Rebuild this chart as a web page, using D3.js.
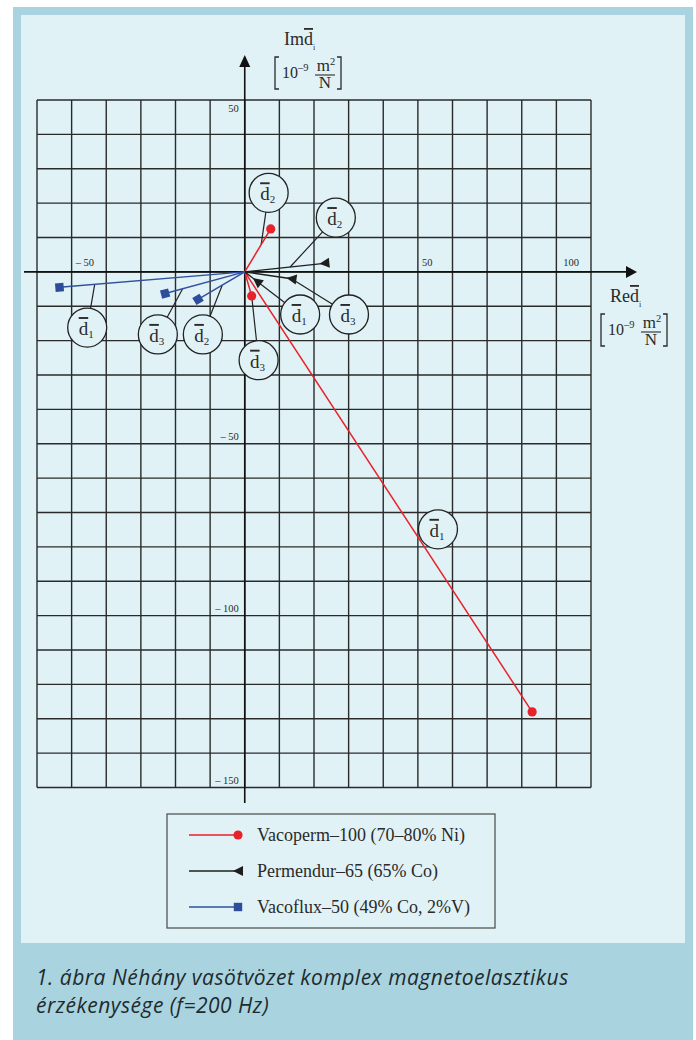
<!DOCTYPE html>
<html>
<head>
<meta charset="utf-8">
<script src="https://cdn.jsdelivr.net/npm/d3@7"></script>
<style>
  html, body { margin: 0; padding: 0; background: #ffffff; }
  svg { display: block; }
  .serif { font-family: "Liberation Serif", "Times New Roman", serif; fill: #2a2a2a; }
  .over { text-decoration: overline; }
</style>
</head>
<body>
<svg id="chart" width="696" height="1040"></svg>
<script>
// Complex magnetoelastic sensitivity components d1, d2, d3 (10^-9 m²/N)
const seriesNames = ["Vacoperm–100 (70–80% Ni)", "Permendur–65 (65% Co)", "Vacoflux–50 (49% Co, 2%V)"];
const componentIds = [1, 2, 3];

const vacopermRe = [83, 7.5, 2];
const vacopermIm = [-128, 12.5, -7];
const permendurRe = [3.5, 23, 13.5];
const permendurIm = [-2.7, 2.5, -2];
const vacofluxRe = [-53.5, -13.5, -23];
const vacofluxIm = [-4.5, -8, -6.3];

const xTicks = [-50, 50, 100];
const yTicks = [50, -50, -100, -150];
const xDomain = [-60, 100];
const yDomain = [-150, 50];

const captionLines = [
  "1. ábra Néhány vasötvözet komplex magnetoelasztikus",
  "érzékenysége (f=200 Hz)"
];

// Callout bubbles: series index, component index, where the leader meets the vector
// (fraction of its length, null = no leader), and the bubble centre in chart units.
const bubbleSeries = [0, 0, 0, 1, 1, 1, 2, 2, 2];
const bubbleComp   = [0, 1, 2, 0, 1, 2, 0, 1, 2];
const bubbleAt     = [null, 0.63, 1, 1, 0.57, 1, 0.81, 0.48, 0.78];
const bubbleRe     = [55.8, 6.9, 4.0, 16.0, 26.3, 30.1, -45.5, -12.1, -25.1];
const bubbleIm     = [-74.9, 23.0, -25.7, -12.4, 15.8, -12.4, -16.2, -18.2, -18.2];

// ---- styling ----
const colors = {
  frame: "#a9d4df",
  panel: "#e0f2f6",
  grid: "#2a2a2a",
  axis: "#111111",
  series: ["#e8212b", "#1e1e1e", "#3150a0"],
  marker: ["#e8212b", "#1e1e1e", "#2d4c9c"]
};

const svg = d3.select("#chart");

// background frame and light panel
svg.append("rect").attr("x", 13).attr("y", 7).attr("width", 680).attr("height", 1033).attr("fill", colors.frame);
svg.append("rect").attr("x", 21).attr("y", 15).attr("width", 664).attr("height", 928).attr("fill", colors.panel);

const x = d3.scaleLinear().domain(xDomain).range([37, 591]);
const y = d3.scaleLinear().domain(yDomain).range([787.5, 100]);

// ---- grid ----
const grid = svg.append("g").attr("stroke", colors.grid).attr("stroke-width", 1.4);
grid.selectAll("line.v").data(d3.range(xDomain[0], xDomain[1] + 1, 10)).join("line")
  .attr("x1", d => x(d)).attr("x2", d => x(d))
  .attr("y1", y(yDomain[1])).attr("y2", y(yDomain[0]));
grid.selectAll("line.h").data(d3.range(yDomain[0], yDomain[1] + 1, 10)).join("line")
  .attr("y1", d => y(d)).attr("y2", d => y(d))
  .attr("x1", x(xDomain[0])).attr("x2", x(xDomain[1]));

// ---- axes with arrowheads ----
const x0 = x(0), y0 = y(0);
const axes = svg.append("g");
axes.append("line").attr("x1", 24).attr("x2", 630).attr("y1", y0).attr("y2", y0)
  .attr("stroke", colors.axis).attr("stroke-width", 1.6);
axes.append("line").attr("x1", x0).attr("x2", x0).attr("y1", 803).attr("y2", 62)
  .attr("stroke", colors.axis).attr("stroke-width", 1.6);
axes.append("path").attr("d", `M${637},${y0} L${626},${y0 - 6} L${626},${y0 + 6} Z`).attr("fill", colors.axis);
axes.append("path").attr("d", `M${x0},${55} L${x0 - 5.5},${67} L${x0 + 5.5},${67} Z`).attr("fill", colors.axis);

// ---- tick labels ----
const tickText = v => v < 0 ? "– " + Math.abs(v) : String(v);
svg.append("g").selectAll("text").data(xTicks).join("text")
  .attr("class", "serif").attr("font-size", 10.5)
  .attr("x", d => d === xDomain[1] ? x(d) - 12 : x(d) + 4)
  .attr("text-anchor", d => d === xDomain[1] ? "end" : "start")
  .attr("y", y0 - 6)
  .text(tickText);
svg.append("g").selectAll("text").data(yTicks).join("text")
  .attr("class", "serif").attr("font-size", 10.5)
  .attr("x", x0 - 6).attr("text-anchor", "end")
  .attr("y", d => d === yDomain[1] ? y(d) + 12 : y(d) - 4)
  .text(tickText);

// ---- axis titles: Re d̄ᵢ / Im d̄ᵢ with unit [10⁻⁹ m²/N] ----
function axisTitle(left, base, prefix) {
  const g = svg.append("g");
  const t = g.append("text").attr("class", "serif").attr("x", left + 9).attr("y", base).attr("font-size", 18);
  t.append("tspan").text(prefix);
  t.append("tspan").attr("class", "over").text("d");
  t.append("tspan").attr("font-size", 8).attr("dy", 5).text("i");

  const top = base + 12, bot = base + 44;
  const br = g.append("g").attr("fill", "none").attr("stroke", "#2a2a2a").attr("stroke-width", 1.3);
  br.append("path").attr("d", `M${left + 4},${top} H${left} V${bot} H${left + 4}`);
  br.append("path").attr("d", `M${left + 62},${top} H${left + 66} V${bot} H${left + 62}`);

  const p = g.append("text").attr("class", "serif").attr("x", left + 7).attr("y", base + 33).attr("font-size", 16);
  p.append("tspan").text("10");
  p.append("tspan").attr("font-size", 10.5).attr("dy", -7).text("–9");

  const m = g.append("text").attr("class", "serif").attr("x", left + 51).attr("y", base + 26)
    .attr("font-size", 17).attr("text-anchor", "middle");
  m.append("tspan").text("m");
  m.append("tspan").attr("font-size", 10.5).attr("dy", -6).text("2");
  g.append("line").attr("x1", left + 40).attr("x2", left + 60).attr("y1", base + 30).attr("y2", base + 30)
    .attr("stroke", "#2a2a2a").attr("stroke-width", 1.1);
  g.append("text").attr("class", "serif").attr("x", left + 50).attr("y", base + 43)
    .attr("font-size", 17).attr("text-anchor", "middle").text("N");
}
axisTitle(275, 45, "Im");
axisTitle(601, 302, "Re");

// ---- vectors ----
const seriesRe = [vacopermRe, permendurRe, vacofluxRe];
const seriesIm = [vacopermIm, permendurIm, vacofluxIm];
const vectors = [];
seriesNames.forEach((name, s) => {
  componentIds.forEach((c, i) => {
    vectors.push({ s, c, re: seriesRe[s][i], im: seriesIm[s][i] });
  });
});
const findVec = (s, i) => vectors.find(v => v.s === s && v.c === componentIds[i]);

// leader lines from vectors to callout bubbles
const bubbles = bubbleSeries.map((s, k) => ({
  s, i: bubbleComp[k], t: bubbleAt[k], re: bubbleRe[k], im: bubbleIm[k]
}));
const leaders = svg.append("g").attr("stroke", "#222").attr("stroke-width", 1.2);
bubbles.filter(b => b.t !== null).forEach(b => {
  const v = findVec(b.s, b.i);
  leaders.append("line")
    .attr("x1", x(v.re * b.t)).attr("y1", y(v.im * b.t))
    .attr("x2", x(b.re)).attr("y2", y(b.im));
});

// bubbles with d̄ₙ labels
const bg = svg.append("g");
bubbles.forEach(b => {
  const cx = x(b.re), cy = y(b.im);
  bg.append("circle").attr("cx", cx).attr("cy", cy).attr("r", 19.5)
    .attr("fill", colors.panel).attr("stroke", "#222").attr("stroke-width", 1.3);
  const t = bg.append("text").attr("class", "serif").attr("x", cx - 8.5).attr("y", cy + 7.5).attr("font-size", 19);
  t.append("tspan").attr("class", "over").text("d");
  t.append("tspan").attr("font-size", 11).attr("dy", 3).text(componentIds[b.i]);
});

const line = d3.line().x(d => x(d[0])).y(d => y(d[1]));
const vg = svg.append("g");
vg.selectAll("path").data(vectors).join("path")
  .attr("d", v => line([[0, 0], [v.re, v.im]]))
  .attr("fill", "none")
  .attr("stroke", v => colors.series[v.s])
  .attr("stroke-width", v => v.s === 1 ? 1.3 : 1.5);

// markers, oriented along each vector
function drawMarker(g, s, px, py, angle) {
  if (s === 0) {
    g.append("circle").attr("cx", px).attr("cy", py).attr("r", 4.6).attr("fill", colors.marker[0]);
  } else if (s === 1) {
    g.append("path").attr("d", "M-5,0 L5,-5 L5,5 Z")
      .attr("transform", `translate(${px},${py}) rotate(${angle})`).attr("fill", colors.marker[1]);
  } else {
    g.append("rect").attr("x", -4.2).attr("y", -4.2).attr("width", 8.4).attr("height", 8.4)
      .attr("transform", `translate(${px},${py}) rotate(${angle})`).attr("fill", colors.marker[2]);
  }
}
const mg = svg.append("g");
vectors.forEach(v => {
  const px = x(v.re), py = y(v.im);
  const ang = Math.atan2(py - y0, px - x0) * 180 / Math.PI;
  drawMarker(mg, v.s, px, py, ang);
});

// ---- legend ----
const lg = svg.append("g");
lg.append("rect").attr("x", 167).attr("y", 814).attr("width", 328).attr("height", 114)
  .attr("fill", "none").attr("stroke", "#555").attr("stroke-width", 1.3);
const rowY = d3.scalePoint().domain(d3.range(seriesNames.length)).range([835, 907]);
seriesNames.forEach((name, s) => {
  const ry = rowY(s);
  lg.append("line").attr("x1", 189).attr("x2", 238).attr("y1", ry).attr("y2", ry)
    .attr("stroke", colors.series[s]).attr("stroke-width", s === 1 ? 1.3 : 1.5);
  drawMarker(lg, s, 238, ry, 0);
  lg.append("text").attr("class", "serif").attr("x", 257).attr("y", ry + 6)
    .attr("font-size", 18).text(name);
});

// ---- caption ----
svg.append("g").selectAll("text").data(captionLines).join("text")
  .attr("x", 36).attr("y", (d, i) => 985 + i * 28)
  .attr("font-family", "'Open Sans', Lato, sans-serif")
  .attr("font-style", "italic")
  .attr("font-size", 21)
  .attr("letter-spacing", 0.5)
  .attr("fill", "#1f2a2e")
  .text(d => d);
</script>
</body>
</html>
